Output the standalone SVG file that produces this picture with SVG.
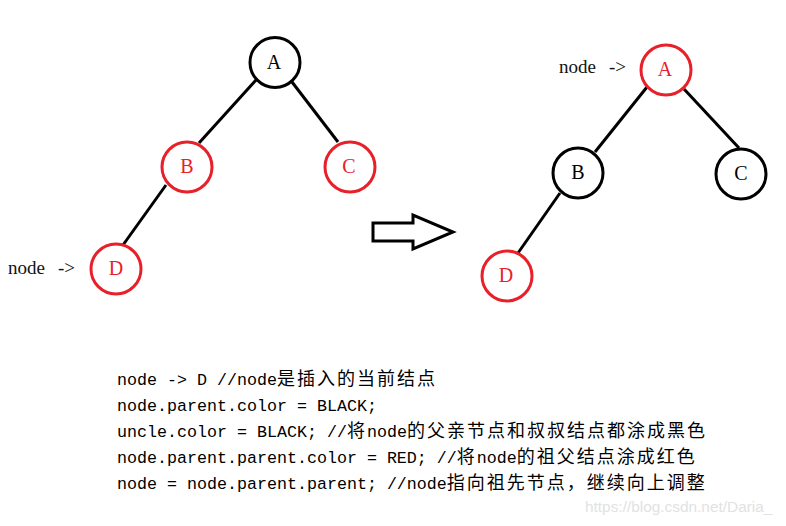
<svg xmlns="http://www.w3.org/2000/svg" width="786" height="526" viewBox="0 0 786 526">
<style>
.bg{fill:#ffffff}
.n circle{fill:#ffffff;stroke-width:3}
.blk circle{stroke:#000000}
.red circle{stroke:#e8202a}
.n text{font-family:"Liberation Serif","DejaVu Serif",serif;font-size:20px;text-anchor:middle}
.blk text{fill:#000000}
.red text{fill:#e8202a}
.edge line{stroke:#000000;stroke-width:3;stroke-linecap:butt}
.lbl{font-family:"Liberation Serif","DejaVu Serif",serif;font-size:19px;fill:#111111}
.code{font-family:"Liberation Mono","DejaVu Sans Mono",monospace;font-size:16.67px;fill:#000000}
.cjk{font-family:"Noto Sans CJK SC","Noto Sans CJK JP",sans-serif;font-size:18px;letter-spacing:2px}
.wm{font-family:"Liberation Sans",Arial,sans-serif;font-size:15.4px;fill:#e2e2e2}
</style>
<rect class="bg" x="0" y="0" width="786" height="526"/>
<g id="connectors" class="edge">
<line x1="256" y1="80" x2="199" y2="143"/>
<line x1="292" y1="82" x2="338" y2="142"/>
<line x1="166" y1="185" x2="123" y2="245"/>
<line x1="647" y1="87" x2="595" y2="152"/>
<line x1="684" y1="89" x2="739" y2="148"/>
<line x1="560" y1="193" x2="518" y2="253"/>
</g>
<g id="L-A" class="n blk"><circle cx="275" cy="62.5" r="25"/><text x="274" y="69">A</text></g>
<g id="L-B" class="n red"><circle cx="187" cy="167" r="25"/><text x="187" y="173">B</text></g>
<g id="L-C" class="n red"><circle cx="350" cy="167" r="25"/><text x="349" y="173">C</text></g>
<g id="L-D" class="n red"><circle cx="116" cy="269" r="25"/><text x="116" y="275">D</text></g>
<g id="L-label"><text class="lbl" x="8" y="274">node</text><text class="lbl" x="58" y="274">-&gt;</text></g>
<g id="transform-arrow"><polygon points="373,223 413,223 413,215 453,232 413,249 413,241 373,241" fill="#ffffff" stroke="#000000" stroke-width="3" stroke-linejoin="miter"/></g>
<g id="R-A" class="n red"><circle cx="666" cy="70" r="25"/><text x="665" y="76">A</text></g>
<g id="R-B" class="n blk"><circle cx="578" cy="173" r="25"/><text x="578" y="179">B</text></g>
<g id="R-C" class="n blk"><circle cx="741" cy="174" r="25"/><text x="741" y="180">C</text></g>
<g id="R-D" class="n red"><circle cx="507" cy="276" r="25"/><text x="506" y="282">D</text></g>
<g id="R-label"><text class="lbl" x="559" y="73">node</text><text class="lbl" x="609" y="73">-&gt;</text></g>
<g id="code">
<text class="code" x="117" y="385">node -&gt; D //node<tspan class="cjk">是插入的当前结点</tspan></text>
<text class="code" x="117" y="411">node.parent.color = BLACK;</text>
<text class="code" x="117" y="437">uncle.color = BLACK; //<tspan class="cjk">将</tspan>node<tspan class="cjk">的父亲节点和叔叔结点都涂成黑色</tspan></text>
<text class="code" x="117" y="463">node.parent.parent.color = RED; //<tspan class="cjk">将</tspan>node<tspan class="cjk">的祖父结点涂成红色</tspan></text>
<text class="code" x="117" y="489">node = node.parent.parent; //node<tspan class="cjk">指向祖先节点，继续向上调整</tspan></text>
</g>
<text class="wm" x="585" y="512">https://blog.csdn.net/Daria_</text>
</svg>
